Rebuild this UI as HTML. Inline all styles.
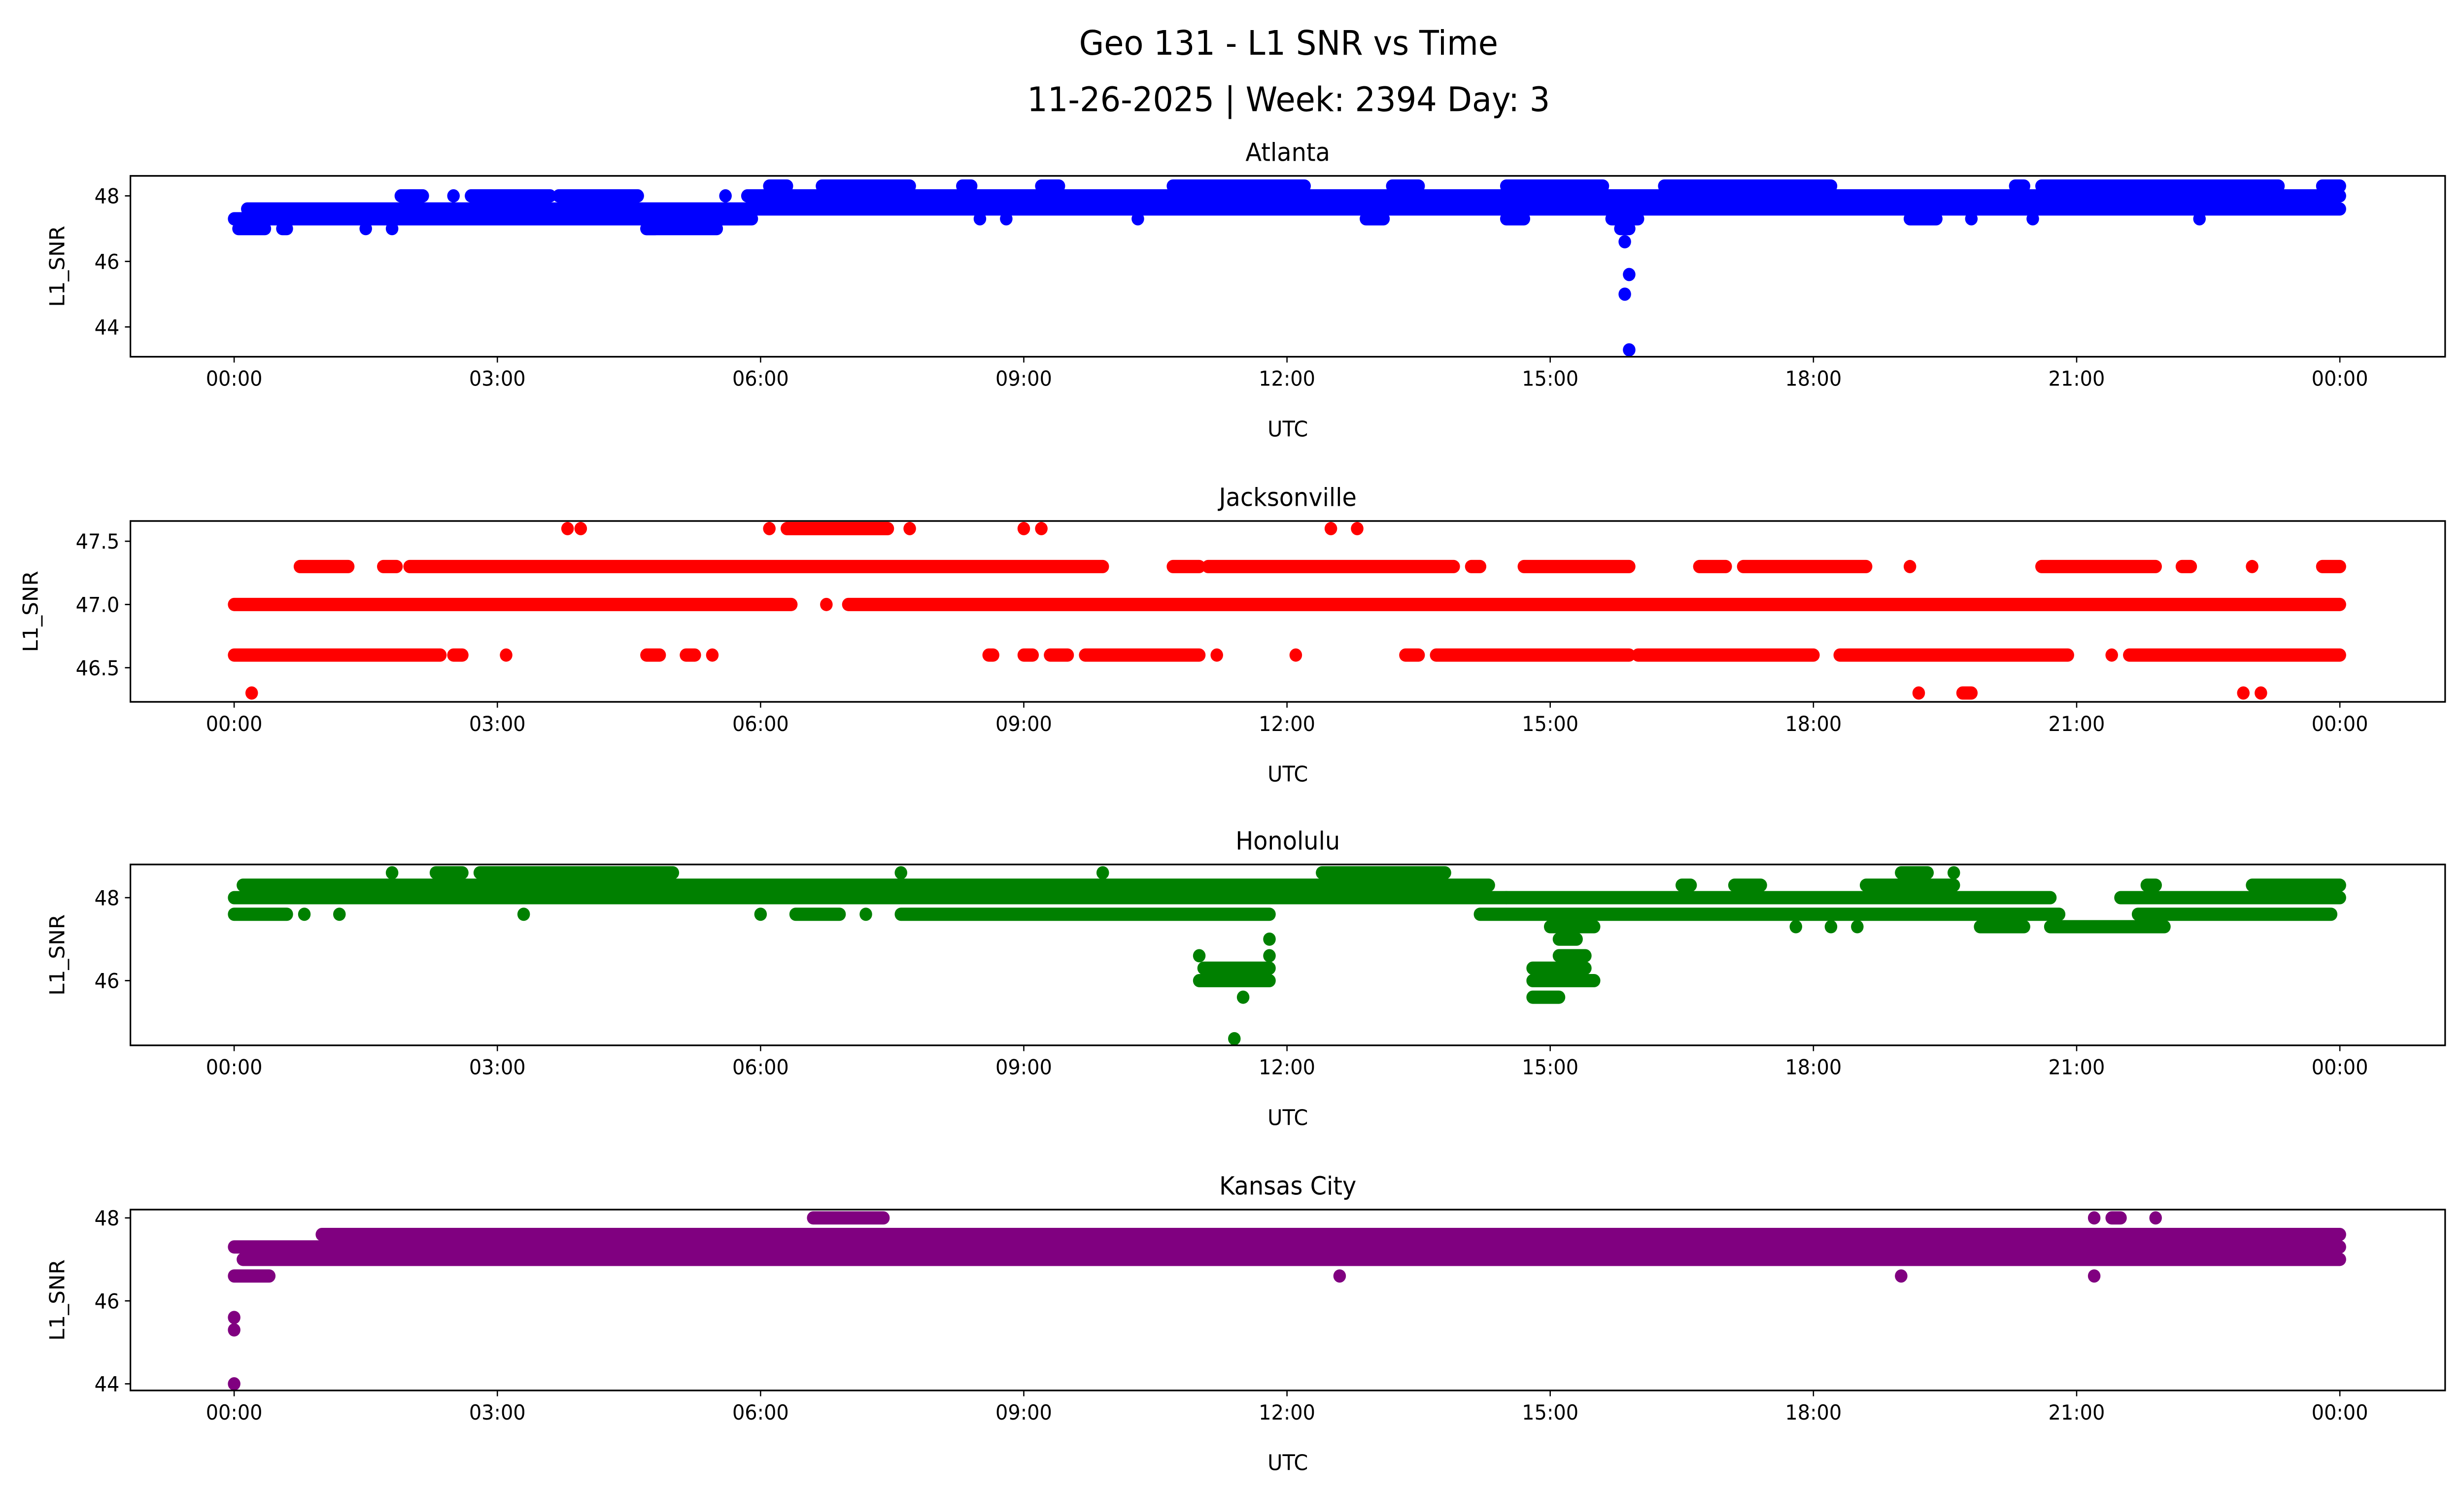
<!DOCTYPE html>
<html><head><meta charset="utf-8"><title>Geo 131 - L1 SNR vs Time</title>
<style>html,body{margin:0;padding:0;background:#fff;width:100%;height:100%;overflow:hidden}svg{display:block;width:100vw;height:100vh}text{font-family:"DejaVu Sans","Liberation Sans",sans-serif;fill:#000}</style>
</head><body>
<svg id="fig" xmlns="http://www.w3.org/2000/svg" viewBox="0 0 1568 901" preserveAspectRatio="none">
<rect width="1568" height="901" fill="#fff"/>
<text x="820" y="33" font-size="20.5" text-anchor="middle">Geo 131 - L1 SNR vs Time</text>
<text x="820" y="67" font-size="20.5" text-anchor="middle">11-26-2025 | Week: 2394 Day: 3</text>
<g id="plots"></g>
</svg>
<script>
// Shared x ticks (hours)
const xTickHours = [0, 3, 6, 9, 12, 15, 18, 21, 24];
const xTickLabels = ["00:00","03:00","06:00","09:00","12:00","15:00","18:00","21:00","00:00"];

// Station names
const stations = ["Atlanta", "Jacksonville", "Honolulu", "Kansas City"];
const colors = ["#0000ff", "#ff0000", "#008000", "#800080"];

// Each series: [startHour, endHour, SNR] runs of consecutive samples (single sample when start==end)
const atlantaRuns = [
 [0,0.12,47.3],[0.05,0.35,47.0],[0.55,0.6,47.0],[1.5,1.5,47.0],[1.8,1.8,47.0],
 [0.15,5.75,47.6],[0.15,5.75,47.3],[4.7,5.5,47.0],[4.7,4.8,47.0],
 [1.9,2.15,48.0],[2.5,2.5,48.0],[2.7,3.6,48.0],[3.7,4.6,48.0],
 [5.6,5.6,48.0],[5.75,24,47.6],[5.85,24,48.0],[5.5,5.9,47.3],
 [6.1,6.3,48.3],[6.7,7.7,48.3],[8.3,8.4,48.3],[9.2,9.4,48.3],[10.7,12.2,48.3],[13.2,13.5,48.3],[14.5,15.6,48.3],[16.3,18.2,48.3],[20.3,20.4,48.3],[20.6,23.3,48.3],[23.8,24,48.3],
 [8.5,8.5,47.3],[8.8,8.8,47.3],[10.3,10.3,47.3],[12.9,13.1,47.3],[14.5,14.7,47.3],[15.7,16.0,47.3],[19.1,19.4,47.3],[19.8,19.8,47.3],[20.5,20.5,47.3],[22.4,22.4,47.3],
 [15.8,15.9,47.0],[15.85,15.85,46.6],[15.9,15.9,45.6],[15.85,15.85,45.0],[15.9,15.9,43.3]
];
const jacksonvilleRuns = [
 [0,6.35,47.0],[6.75,6.75,47.0],[7.0,24,47.0],
 [0.75,1.3,47.3],[1.7,1.85,47.3],[2.0,9.9,47.3],[10.7,11.0,47.3],[11.1,13.9,47.3],[14.1,14.2,47.3],[14.7,15.9,47.3],[16.7,17.0,47.3],[17.2,18.6,47.3],[19.1,19.1,47.3],[20.6,21.9,47.3],[22.2,22.3,47.3],[23.0,23.0,47.3],[23.8,24,47.3],
 [3.8,3.8,47.6],[3.95,3.95,47.6],[6.1,6.1,47.6],[6.3,7.45,47.6],[7.7,7.7,47.6],[9.0,9.0,47.6],[9.2,9.2,47.6],[12.5,12.5,47.6],[12.8,12.8,47.6],
 [0,2.35,46.6],[2.5,2.6,46.6],[3.1,3.1,46.6],[4.7,4.85,46.6],[5.15,5.25,46.6],[5.45,5.45,46.6],[8.6,8.65,46.6],[9.0,9.1,46.6],[9.3,9.5,46.6],[9.7,11.0,46.6],[11.2,11.2,46.6],[12.1,12.1,46.6],[13.35,13.5,46.6],[13.7,15.9,46.6],[16.0,18.0,46.6],[18.3,20.9,46.6],[21.4,21.4,46.6],[21.6,24,46.6],
 [0.2,0.2,46.3],[19.2,19.2,46.3],[19.7,19.8,46.3],[22.9,22.9,46.3],[23.1,23.1,46.3]
];
const honoluluRuns = [
 [0,14.5,48.0],[14.5,20.7,48.0],[21.5,24,48.0],[0.1,14.3,48.3],[16.5,16.6,48.3],[17.1,17.4,48.3],[18.6,19.6,48.3],[21.8,21.9,48.3],[23.0,24,48.3],
 [1.8,1.8,48.6],[2.3,2.6,48.6],[2.8,5.0,48.6],[7.6,7.6,48.6],[9.9,9.9,48.6],[12.4,13.8,48.6],[19.0,19.3,48.6],[19.6,19.6,48.6],
 [0,0.6,47.6],[0.8,0.8,47.6],[1.2,1.2,47.6],[3.3,3.3,47.6],[6.0,6.0,47.6],[6.4,6.9,47.6],[7.2,7.2,47.6],[7.6,11.8,47.6],[14.2,20.8,47.6],[21.7,23.9,47.6],
 [15.0,15.5,47.3],[17.8,17.8,47.3],[18.2,18.2,47.3],[18.5,18.5,47.3],[19.9,20.4,47.3],[20.7,22.0,47.3],
 [11.0,11.8,46.0],[11.05,11.8,46.3],[11.0,11.0,46.6],[11.8,11.8,46.6],[11.8,11.8,47.0],[11.5,11.5,45.6],[11.4,11.4,44.6],
 [14.8,15.5,46.0],[14.8,15.4,46.3],[14.8,15.1,45.6],[15.1,15.4,46.6],[15.1,15.3,47.0]
];
const kansasRuns = [
 [0,24,47.3],[0.1,24,47.0],[1.0,24,47.6],
 [6.6,7.4,48.0],[21.2,21.2,48.0],[21.4,21.5,48.0],[21.9,21.9,48.0],
 [0,0.4,46.6],[12.6,12.6,46.6],[19.0,19.0,46.6],[21.2,21.2,46.6],
 [0,0,45.6],[0,0,45.3],[0,0,44.0],[7.8,7.8,47.0],[8.6,8.6,47.0],[15.2,15.2,47.0],[22.6,22.6,47.0],[23.9,23.9,47.0]
];
const allRuns = [atlantaRuns, jacksonvilleRuns, honoluluRuns, kansasRuns];

// Y axis domains and ticks
const yDomains = [[43.09,48.61],[46.23,47.66],[44.44,48.8],[43.84,48.2]];
const yTicks = [[44,46,48],[46.5,47.0,47.5],[46,48],[44,46,48]];
const yTickLabels = [["44","46","48"],["46.5","47.0","47.5"],["46","48"],["44","46","48"]];

const NS = "http://www.w3.org/2000/svg";
const root = document.getElementById("plots");
const AX_L = 83, AX_R = 1556, X0 = 149, X24 = 1489;
const tops = [106, 314, 521, 729], H = 109;
function xScale(h){ return X0 + (X24 - X0) * h / 24; }
function mk(tag, attrs, parent){ const e = document.createElementNS(NS, tag); for (const k in attrs) e.setAttribute(k, attrs[k]); parent.appendChild(e); return e; }

stations.forEach((name, i) => {
  const top = tops[i], bot = top + H;
  const [d0, d1] = yDomains[i];
  const yScale = v => bot - (v - d0) / (d1 - d0) * H;
  const g = mk("g", {}, root);
  
  
  const clipId = "clip" + i;
  const cp = mk("clipPath", {id: clipId}, g);
  mk("rect", {x: AX_L, y: top, width: AX_R - AX_L, height: H}, cp);
  const pts = mk("g", {"clip-path": "url(#" + clipId + ")", fill: colors[i], stroke: colors[i]}, g);
  
  
  allRuns[i].forEach(r => {
    const y = yScale(r[2]);
    if (r[0] === r[1]) {
      const c = mk("circle", {cx: xScale(r[0]), cy: y, r: 4, stroke: "none"}, pts);
      
      
    } else {
      const l = mk("line", {x1: xScale(r[0]), x2: xScale(r[1]), y1: y, y2: y, "stroke-width": 8, "stroke-linecap": "round"}, pts);
      
      
    }
  });
  const frame = mk("rect", {x: AX_L, y: top, width: AX_R - AX_L, height: H, fill: "none", stroke: "#000", "stroke-width": 1}, g);
  
  
  xTickHours.forEach((h, k) => {
    const x = xScale(h);
    mk("line", {x1: x, x2: x, y1: bot, y2: bot + 3.5, stroke: "#000", "stroke-width": 0.8}, g);
    const t = mk("text", {x: x, y: bot + 17.5, "font-size": 12.5, "text-anchor": "middle"}, g);
    t.textContent = xTickLabels[k];
    
    
  });
  yTicks[i].forEach((v, k) => {
    const y = yScale(v);
    mk("line", {x1: AX_L - 3.5, x2: AX_L, y1: y, y2: y, stroke: "#000", "stroke-width": 0.8}, g);
    const t = mk("text", {x: AX_L - 7, y: y + 4.5, "font-size": 12.5, "text-anchor": "end"}, g);
    t.textContent = yTickLabels[i][k];
    
    
  });
  const xl = mk("text", {x: (AX_L + AX_R) / 2, y: bot + 48, "font-size": 13, "text-anchor": "middle"}, g);
  xl.textContent = "UTC";
  
  
  const ylx = i === 1 ? 24 : 41;
  const yl = mk("text", {x: ylx, y: (top + bot) / 2, "font-size": 13, "text-anchor": "middle", transform: "rotate(-90 " + ylx + " " + ((top + bot) / 2) + ")"}, g);
  yl.textContent = "L1_SNR";
  
  
  const st = mk("text", {x: (AX_L + AX_R) / 2, y: top - 9, "font-size": 15, "text-anchor": "middle"}, g);
  st.textContent = name;
  
  
});
</script>
</body></html>
